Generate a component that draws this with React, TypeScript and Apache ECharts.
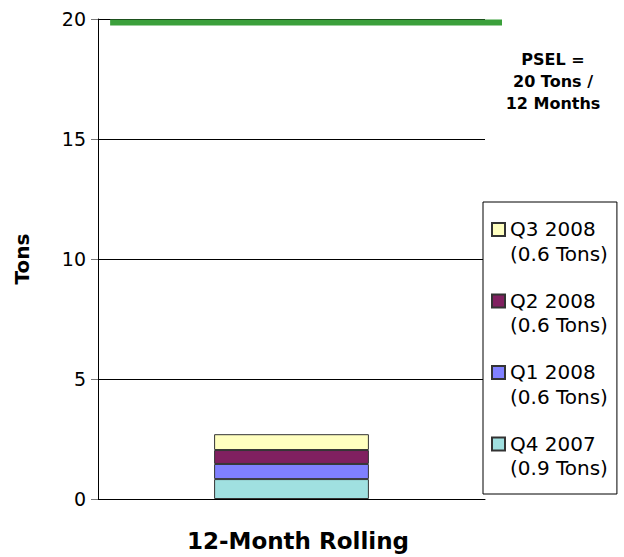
import React, { useEffect, useRef } from "react";
import * as echarts from "echarts";

const categories = ["12-Month Rolling"];
const seriesNames = ["Q4 2007", "Q1 2008", "Q2 2008", "Q3 2008"];
const seriesValues = [0.83, 0.63, 0.58, 0.66];
const legendTons = ["0.9", "0.6", "0.6", "0.6"];
const seriesColors = ["#A0E0E0", "#8080FF", "#802060", "#FFFFC0"];
const legendOrder = ["Q3 2008", "Q2 2008", "Q1 2008", "Q4 2007"];
const yTicks = { min: 0, max: 20, interval: 5 };
const pselValue = 19.85;
const pselSpan = [0.03, 1];
const pselText = ["PSEL =", "20 Tons /", "12 Months"];

const FONT = "'DejaVu Sans', Verdana, sans-serif";

export default function App() {
  const ref = useRef<HTMLDivElement>(null);
  useEffect(() => {
    if (!ref.current) return;
    const chart = echarts.init(ref.current, undefined, { renderer: "svg" });
    const barSeries = seriesNames.map((name, i) => ({
      name,
      type: "bar",
      stack: "total",
      barWidth: "40%",
      xAxisIndex: 0,
      yAxisIndex: 0,
      data: [seriesValues[i]],
      itemStyle: { color: seriesColors[i], borderColor: "#333", borderWidth: 1 },
    }));
    chart.setOption({
      animation: false,
      backgroundColor: "#fff",
      textStyle: { fontFamily: FONT },
      grid: [
        { left: 98, right: 139, top: 19, bottom: 58 },
        { left: 98, right: 122, top: 19, bottom: 58 },
      ],
      xAxis: [
        {
          type: "category",
          gridIndex: 0,
          data: categories,
          axisLine: { show: true, lineStyle: { color: "#000", width: 1 } },
          axisTick: { show: false },
          axisLabel: {
            margin: 30,
            fontSize: 23,
            fontWeight: "bold",
            color: "#000",
            fontFamily: FONT,
            padding: [0, 0, 0, 13],
          },
        },
        { type: "value", gridIndex: 1, min: 0, max: 1, show: false },
      ],
      yAxis: [
        {
          type: "value",
          gridIndex: 0,
          min: yTicks.min,
          max: yTicks.max,
          interval: yTicks.interval,
          name: "Tons",
          nameLocation: "middle",
          nameGap: 66,
          nameTextStyle: { fontSize: 20, fontWeight: "bold", color: "#000", fontFamily: FONT },
          axisLine: { show: true, lineStyle: { color: "#000", width: 1 } },
          axisTick: { show: true, length: 7, lineStyle: { color: "#777" } },
          axisLabel: { margin: 12, fontSize: 19, color: "#000", fontFamily: FONT },
          splitLine: { show: true, lineStyle: { color: "#000", width: 1 } },
        },
        {
          type: "value",
          gridIndex: 1,
          min: yTicks.min,
          max: yTicks.max,
          show: false,
        },
      ],
      legend: {
        orient: "vertical",
        left: 483,
        top: 202,
        data: legendOrder,
        icon: "rect",
        itemWidth: 13,
        itemHeight: 13,
        itemGap: 27,
        padding: [17, 9, 16, 8],
        backgroundColor: "#fff",
        borderColor: "#000",
        borderWidth: 1,
        borderRadius: 0,
        selectedMode: false,
        formatter: (name: string) => {
          const idx = seriesNames.indexOf(name);
          return `{a|${name}}\n{b|(${legendTons[idx]} Tons)}`;
        },
        textStyle: {
          color: "#000",
          fontFamily: FONT,
          fontSize: 20,
          rich: {
            a: { fontSize: 20, lineHeight: 48, color: "#000", fontFamily: FONT },
            b: { fontSize: 20, lineHeight: 1, color: "#000", fontFamily: FONT },
          },
        },
      },
      graphic: [
        {
          type: "text",
          x: 553,
          y: 48,
          style: {
            text: pselText.join("\n"),
            fill: "#000",
            font: `bold 16px ${FONT}`,
            lineHeight: 22,
            align: "center",
            verticalAlign: "top",
          },
        },
      ],
      series: [
        ...barSeries,
        {
          name: "PSEL",
          type: "line",
          xAxisIndex: 1,
          yAxisIndex: 1,
          symbol: "none",
          data: [
            [pselSpan[0], pselValue],
            [pselSpan[1], pselValue],
          ],
          lineStyle: { color: "#3BA03B", width: 6 },
          z: 5,
        },
      ],
    });
    return () => chart.dispose();
  }, []);
  return (
    <div
      ref={ref}
      style={{ position: "fixed", left: 0, top: 0, width: 624, height: 557 }}
    />
  );
}
